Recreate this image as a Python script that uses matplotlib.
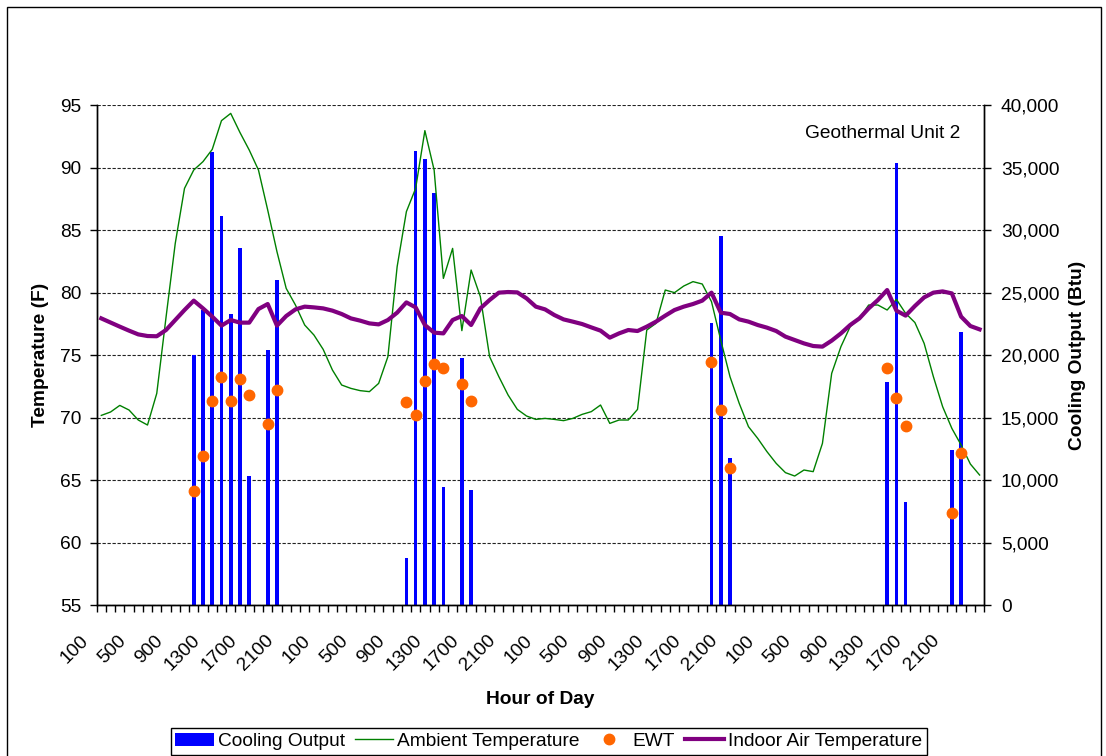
import matplotlib
matplotlib.use("Agg")
import matplotlib.pyplot as plt
import matplotlib.transforms as mtransforms
from matplotlib.patches import Rectangle
from matplotlib.ticker import FuncFormatter
import numpy as np

plt.rcParams['font.family'] = ['Liberation Sans', 'DejaVu Sans']
FS = 13.8

# categories: hour of day, 4 days
day_hours = [100, 200, 300, 400, 500, 600, 700, 800, 900, 1000, 1100, 1200,
             1300, 1400, 1500, 1600, 1700, 1800, 1900, 2000, 2100, 2200, 2300, 2400]
hour_labels = day_hours * 4

ambient_f = [70.17, 70.44, 70.97, 70.6, 69.8, 69.4, 71.93, 78.0, 83.93, 88.33, 89.8, 90.47,
             91.45, 93.75, 94.33, 92.8, 91.4, 89.8, 86.6, 83.27, 80.33, 79.0, 77.4, 76.6,
             75.45, 73.8, 72.6, 72.33, 72.15, 72.07, 72.73, 74.87, 82.07, 86.47, 88.33, 92.95,
             89.8, 81.13, 83.53, 76.95, 81.8, 79.67, 74.87, 73.27, 71.8, 70.65, 70.12, 69.85,
             69.93, 69.85, 69.75, 69.93, 70.25, 70.47, 71.0, 69.53, 69.8, 69.8, 70.65, 77.0,
             77.53, 80.2, 79.99, 80.52, 80.87, 80.68, 79.27, 76.2, 73.27, 71.13, 69.27, 68.33,
             67.27, 66.33, 65.59, 65.32, 65.8, 65.67, 67.93, 73.53, 75.67, 77.27, 77.93, 79.0,
             79.0, 78.6, 79.45, 78.33, 77.6, 75.93, 73.27, 70.87, 69.13, 67.8, 66.28, 65.4]

indoor_f = [77.93, 77.6, 77.27, 76.95, 76.65, 76.52, 76.5, 77.0, 77.8, 78.6, 79.35, 78.73,
            78.07, 77.35, 77.8, 77.59, 77.59, 78.68, 79.08, 77.35, 78.12, 78.65, 78.87, 78.81,
            78.73, 78.55, 78.28, 77.93, 77.75, 77.53, 77.45, 77.8, 78.39, 79.21, 78.81, 77.4,
            76.79, 76.73, 77.8, 78.12, 77.4, 78.73, 79.4, 79.99, 80.04, 80.01, 79.53, 78.87,
            78.65, 78.2, 77.85, 77.67, 77.48, 77.21, 76.95, 76.39, 76.73, 77.0, 76.92, 77.27,
            77.67, 78.15, 78.6, 78.87, 79.08, 79.35, 79.99, 78.39, 78.28, 77.85, 77.67, 77.4,
            77.19, 76.92, 76.47, 76.2, 75.93, 75.72, 75.67, 76.15, 76.73, 77.4, 77.93, 78.73,
            79.4, 80.2, 78.55, 78.15, 78.92, 79.61, 79.99, 80.09, 79.93, 78.07, 77.32, 77.05]

# hours (category index) when the unit ran
run_idx = [10, 11, 12, 13, 14, 15, 16, 18, 19,
           33, 34, 35, 36, 37, 39, 40,
           66, 67, 68,
           85, 86, 87, 92, 93]
cooling_btu = [20000, 23600, 36240, 31120, 23280, 28560, 10320, 20400, 26000,
               3760, 36320, 35680, 32930, 9440, 19730, 9200,
               22560, 29520, 11760,
               17840, 35360, 8240, 12400, 21840]
ewt_f = [64.12, 66.9, 71.3, 73.27, 71.3, 73.1, 71.8, 69.45, 72.2,
         71.24, 70.22, 72.92, 74.3, 74.0, 72.7, 71.3,
         74.42, 70.62, 65.96,
         73.98, 71.58, 69.34, 62.38, 67.18]

x = np.arange(len(hour_labels))

fig = plt.figure(figsize=(11.06, 7.56), dpi=100)
ax = fig.add_axes([0.0874, 0.1997, 0.8025, 0.6614])
ax2 = ax.twinx()
ax.set_zorder(ax2.get_zorder() + 1)
ax.patch.set_visible(False)

# bars + grid on the right axis (drawn underneath)
ax2.set_ylim(0, 40000)
ax2.set_yticks(np.arange(0, 40001, 5000))
ax2.yaxis.set_major_formatter(FuncFormatter(lambda v, p: f"{int(v):,}"))
ax2.grid(axis='y', color='#222222', linestyle=(0, (3, 1.5)), linewidth=0.8)
ax2.set_axisbelow(True)
bars = ax2.bar(run_idx, cooling_btu, width=0.4, color='#0000FF', zorder=2,
               label='Cooling Output')

l_amb, = ax.plot(x, ambient_f, color='#008000', lw=1.0, label='Ambient Temperature')
l_ewt, = ax.plot(run_idx, ewt_f, 'o', color='#FF6600', ms=7.5, mec='#FF6600',
                 label='EWT')
l_in, = ax.plot(x, indoor_f, color='#800080', lw=3.0, label='Indoor Air Temperature')

ax.set_ylim(55, 95)
ax.set_yticks(np.arange(55, 96, 5))
ax.set_xlim(-0.5, len(x) - 0.5)
ax2.set_xlim(-0.5, len(x) - 0.5)

for a in (ax, ax2):
    a.spines['top'].set_visible(False)
    for s in a.spines.values():
        s.set_linewidth(1.0)

ax.tick_params(axis='y', direction='out', length=5, width=1, pad=6, labelsize=FS)
ax2.tick_params(axis='y', direction='out', length=5, width=1, pad=7, labelsize=FS)

# x ticks: marks between every category, labels every 4 hours (drawn as texts)
ax.set_xticks(np.arange(-0.5, len(x), 1.0), minor=True)
ax.set_xticks([])
ax.tick_params(axis='x', which='minor', direction='out', length=5, width=1)
ax2.tick_params(axis='x', which='both', length=0, labelbottom=False)
lab_trans = ax.get_xaxis_transform() + mtransforms.ScaledTranslation(
    -9 / 100, -27 / 100, fig.dpi_scale_trans)
for xi, h in zip(x[::4], hour_labels[::4]):
    ax.text(xi, 0, str(h), transform=lab_trans, rotation=45, ha='right', va='top',
            fontsize=FS)

ax.set_ylabel('Temperature (F)', fontsize=FS, fontweight='bold')
ax.yaxis.set_label_coords(-0.0535, 0.5)
ax2.set_ylabel('Cooling Output (Btu)', fontsize=FS, fontweight='bold')
ax2.yaxis.set_label_coords(1.0954, 0.5)
ax.set_xlabel('Hour of Day', fontsize=FS, fontweight='bold')
ax.xaxis.set_label_coords(0.5, -0.172)

ax.text(0.973, 0.944, 'Geothermal Unit 2', transform=ax.transAxes, ha='right',
        va='center', fontsize=FS)

leg = fig.legend([bars, l_amb, l_ewt, l_in],
                 ['Cooling Output', 'Ambient Temperature', 'EWT', 'Indoor Air Temperature'],
                 loc='center', bbox_to_anchor=(0.496, 0.0195), ncol=4, fontsize=FS,
                 frameon=True, fancybox=False, shadow=False, framealpha=1,
                 edgecolor='black', borderpad=0.25, handlelength=2.0,
                 handletextpad=0.2, columnspacing=0.55, numpoints=1)
leg.get_frame().set_linewidth(1.0)

# chart area border
fig.patches.append(Rectangle((7 / 1106, -0.01), 1094 / 1106, 1 - 7 / 756 + 0.01,
                             transform=fig.transFigure, fill=False,
                             edgecolor='black', lw=1.0))

fig.savefig('out.png', dpi=100)
